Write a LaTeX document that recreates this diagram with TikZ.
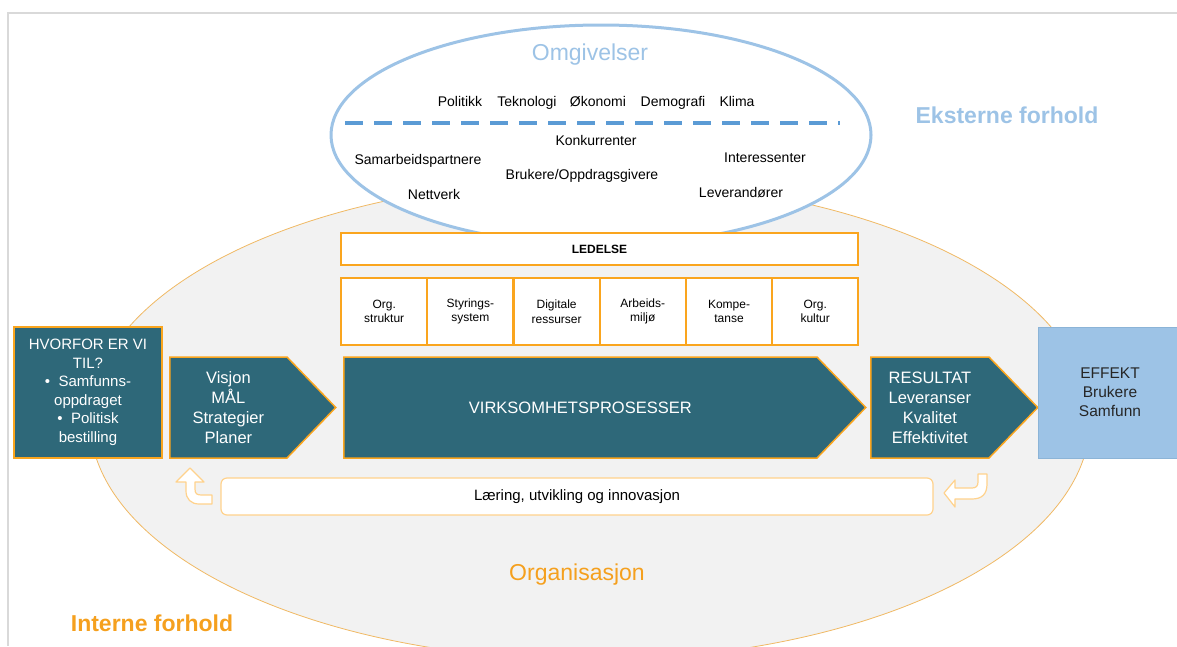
\documentclass[tikz,border=0pt]{standalone}
\usepackage{fontspec}
\setmainfont{Liberation Sans}
\usetikzlibrary{shapes.symbols}
\definecolor{vteal}{RGB}{46,104,121}
\definecolor{vorange}{RGB}{250,165,30}
\definecolor{vorangeline}{RGB}{240,185,100}
\definecolor{vorangepale}{RGB}{255,210,140}
\definecolor{vorangetext}{RGB}{245,160,30}
\definecolor{vbg}{RGB}{242,242,242}
\definecolor{vblue}{RGB}{157,195,230}
\definecolor{vblueedge}{RGB}{140,180,215}
\definecolor{vbluedash}{RGB}{91,155,213}
\definecolor{vgray}{RGB}{217,217,217}
\begin{document}
\begin{tikzpicture}[x=1pt,y=-1pt,
    darkbox/.style={fill=vteal,draw=vorange,line width=1.5pt,text=white,align=center,
      font=\fontsize{16.5}{20}\selectfont,inner sep=0pt},
    arrowbox/.style={darkbox,shape=signal,signal to=east,signal pointer angle=92,minimum height=101pt,anchor=west},
    factor/.style={draw=vorange,fill=white,line width=2pt,minimum width=86pt,minimum height=67pt,
      align=center,font=\fontsize{12}{14.5}\selectfont,inner sep=0pt},
    env/.style={font=\fontsize{14}{16}\selectfont,text height=10pt,text depth=3pt},
    biglabel/.style={font=\fontsize{23}{26}\selectfont},
    uturn/.style={fill=white,draw=vorangepale,line width=1.2pt,line join=round}]
  \useasboundingbox (0,0) rectangle (1177,646);
  \draw[vgray,line width=1.5pt] (1177,13) -- (8,13) -- (8,646);
  \draw[draw=vorangeline,fill=vbg,line width=0.8pt] (590,420) ellipse [x radius=500pt,y radius=240pt];
  \draw[draw=vblue,fill=white,line width=3pt] (601,135) ellipse [x radius=270pt,y radius=110pt];
  \draw[vbluedash,line width=3.5pt,dash pattern=on 18pt off 11pt] (345,123) -- (840,123);
  \node[biglabel,text=vblue] (env) at (590,55) {Omgivelser};
  \draw
    (460,103) node[env] (pol){Politikk}
    (527,103) node[env] (tek){Teknologi}
    (598,103) node[env] (oko){Økonomi}
    (673,103) node[env] (dem){Demografi}
    (737,103) node[env] (kli){Klima}
    (596,142) node[env] (konk){Konkurrenter}
    (418,161) node[env] (samarb){Samarbeidspartnere}
    (765,159) node[env] (inter){Interessenter}
    (582,176) node[env] (bruk){Brukere/Oppdragsgivere}
    (434,196) node[env] (nett){Nettverk}
    (741,194) node[env] (lev){Leverandører};
  \node[font=\bfseries\fontsize{23}{26}\selectfont,text=vblue] (ext) at (1007,115) {Eksterne forhold};
  \node[draw=vorange,fill=white,line width=2.5pt,minimum width=517pt,minimum height=32pt,
    font=\bfseries\fontsize{12}{14}\selectfont] (lead) at (599.5,249) {LEDELSE};
  \foreach \txt [count=\i] in {Org.\\struktur,Styrings-\\system,Digitale\\ressurser,Arbeids-\\miljø,Kompe-\\tanse,Org.\\kultur}
    \node[factor] (f\i) at (298+86.2*\i,311.5) {\txt};
  \node[darkbox,minimum width=148pt,minimum height=131pt,font=\fontsize{15}{18.5}\selectfont] (why) at (88,392.5)
    {HVORFOR ER VI\\TIL?\\•\ \ Samfunns-\\oppdraget\\•\ \ Politisk\\bestilling};
  \node[arrowbox,minimum width=166pt] (vision) at (169,407.5) {Visjon\\MÅL\\Strategier\\Planer};
  \node[arrowbox,minimum width=522pt] (process) at (343,407.5) {VIRKSOMHETSPROSESSER};
  \node[arrowbox,minimum width=167pt] (result) at (870,407.5) {RESULTAT\\Leveranser\\Kvalitet\\Effektivitet};
  \node[fill=vblue,draw=vblueedge,line width=1pt,minimum width=144pt,minimum height=131pt,align=center,
    text=black!85,font=\fontsize{15.5}{19}\selectfont] (effect) at (1110,392.5) {EFFEKT\\Brukere\\Samfunn};
  \node[draw=vorangepale,fill=white,rounded corners=6pt,line width=1.2pt,minimum width=712pt,minimum height=37pt,
    font=\fontsize{15}{17}\selectfont] (learn) at (577,496.5) {Læring, utvikling og innovasjon};
  \draw[uturn] (190,468) -- (204,482) -- (195,482) -- (195,489) .. controls (195,494) and (197,495) .. (202,495)
    -- (212,495) -- (212,504) -- (199,504) .. controls (191,504) and (186,499) .. (186,491) -- (186,482) -- (176,482) -- cycle;
  \draw[uturn] (944,493) -- (955,480) -- (955,488) -- (972,488) .. controls (976,488) and (978,486) .. (978,482)
    -- (978,474) -- (987,474) -- (987,484) .. controls (987,494) and (982,499) .. (972,499) -- (955,499) -- (955,507) -- cycle;
  \node[biglabel,text=vorangetext] (org) at (577,575) {Organisasjon};
  \node[font=\bfseries\fontsize{23}{26}\selectfont,text=vorangetext] (int) at (152,623) {Interne forhold};
\end{tikzpicture}
\end{document}
